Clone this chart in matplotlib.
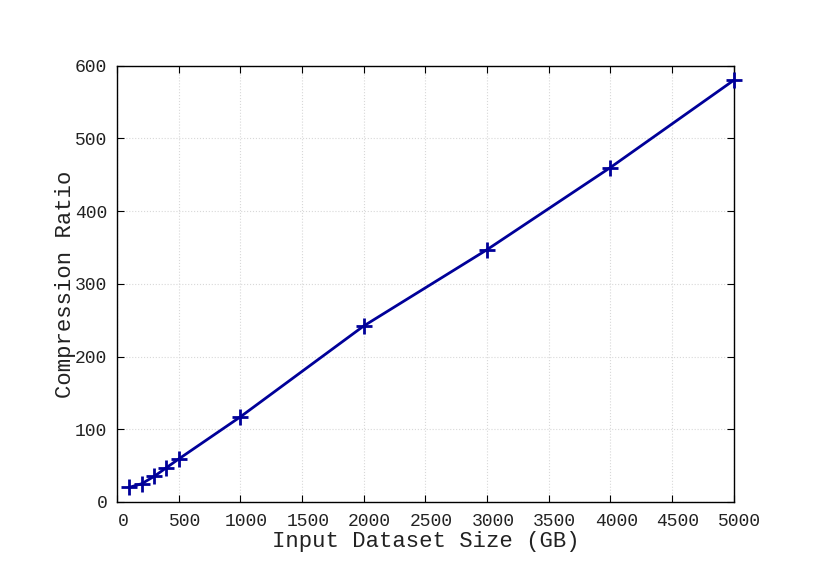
import matplotlib
matplotlib.use('Agg')
import matplotlib.pyplot as plt
import matplotlib.transforms as mtransforms

size_gb = [100, 200, 300, 400, 500, 1000, 2000, 3000, 4000, 5000]
ratio = [20, 25, 35, 47, 59, 117, 242, 347, 460, 580]

plt.rcParams['font.family'] = ['Liberation Mono', 'DejaVu Sans Mono']

fig = plt.figure(figsize=(8.3, 5.87), dpi=100)
ax = fig.add_axes([0.141, 0.145, 0.743, 0.743])

ax.plot(size_gb, ratio, color='#000099', linewidth=2, marker='+',
        markersize=11, markeredgewidth=2, clip_on=False, zorder=3)

ax.set_xlim(0, 5000)
ax.set_ylim(0, 600)
ax.set_xticks(range(0, 5001, 500))
ax.set_yticks(range(0, 601, 100))
ax.grid(True, color='#d8d8d8', linestyle=':', linewidth=0.8)
ax.tick_params(direction='in', top=True, right=True, labelsize=13,
               length=5, labelcolor='#222222')
ax.tick_params(axis='x', pad=8)
ax.tick_params(axis='y', pad=7)
for s in ax.spines.values():
    s.set_linewidth(1)

# x tick labels sit a little right of their ticks in the original
shift = mtransforms.ScaledTranslation(6 / 100, 0, fig.dpi_scale_trans)
for lab in ax.get_xticklabels():
    lab.set_transform(lab.get_transform() + shift)

ax.set_xlabel('Input Dataset Size (GB)', fontsize=16, labelpad=1, color='#222222')
ax.set_ylabel('Compression Ratio', fontsize=16, labelpad=-1, color='#222222')

fig.savefig('out.png', dpi=100)
